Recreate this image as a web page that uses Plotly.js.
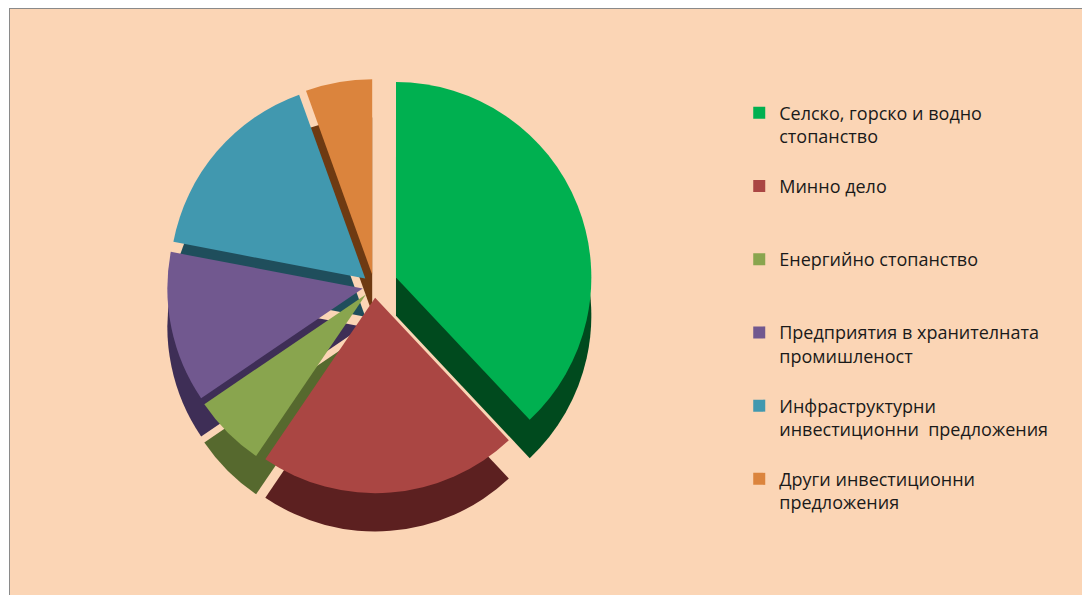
<!DOCTYPE html>
<html>
<head>
<meta charset="utf-8">
<script src="https://cdn.plot.ly/plotly-3.0.1.min.js"></script>
<style>
html,body{margin:0;padding:0;background:#ffffff;}
#chart{position:absolute;left:9px;top:8px;width:1080px;height:595px;border-left:1.5px solid #8a8a8a;border-top:1.5px solid #8a8a8a;box-sizing:border-box;}
</style>
</head>
<body>
<div id="chart"></div>
<script>
const categories = [
  "Селско, горско и водно<br>стопанство<br> ",
  "Минно дело<br> <br> ",
  "Енергийно стопанство<br> <br> ",
  "Предприятия в хранителната<br>промишленост<br> ",
  "Инфраструктурни<br>инвестиционни  предложения<br> ",
  "Други инвестиционни<br>предложения<br> "
];
const shares = [38, 21.5, 6, 12.5, 16.5, 5.5];
const colors = ["#00B050", "#AA4643", "#89A54E", "#71588F", "#4198AF", "#DB843D"];
const sideColors = ["#004A1E", "#5C2020", "#56692E", "#3E2E56", "#1F4E5C", "#6E3A12"];
const pulls = [0.12, 0.06, 0.06, 0.06, 0.06, 0.06];

const sideTrace = {
  type: "pie",
  labels: categories,
  values: shares,
  sort: false,
  direction: "clockwise",
  rotation: 0,
  pull: pulls,
  textinfo: "none",
  hoverinfo: "skip",
  showlegend: false,
  marker: {colors: sideColors, line: {width: 0}},
  domain: {x: [0.0, 0.66], y: [0.06, 0.86]}
};

const faceTrace = {
  type: "pie",
  labels: categories,
  values: shares,
  sort: false,
  direction: "clockwise",
  rotation: 0,
  pull: pulls,
  textinfo: "none",
  hoverinfo: "label+percent",
  marker: {colors: colors, line: {width: 0}},
  domain: {x: [0.0, 0.66], y: [0.13, 0.93]}
};

const layout = {
  width: 1073,
  height: 587,
  paper_bgcolor: "#FBD5B5",
  plot_bgcolor: "#FBD5B5",
  margin: {l: 20, r: 10, t: 20, b: 20},
  showlegend: true,
  font: {family: "Open Sans, Noto Sans, sans-serif", color: "#1a1a1a", size: 18},
  legend: {
    x: 0.68, y: 0.88, xanchor: "left", yanchor: "top",
    valign: "top",
    bgcolor: "rgba(0,0,0,0)",
    font: {size: 18, family: "Open Sans, Noto Sans, sans-serif", color: "#1a1a1a"},
    itemwidth: 30
  }
};

Plotly.newPlot("chart", [sideTrace, faceTrace], layout, {displayModeBar: false, staticPlot: true});
</script>
</body>
</html>
